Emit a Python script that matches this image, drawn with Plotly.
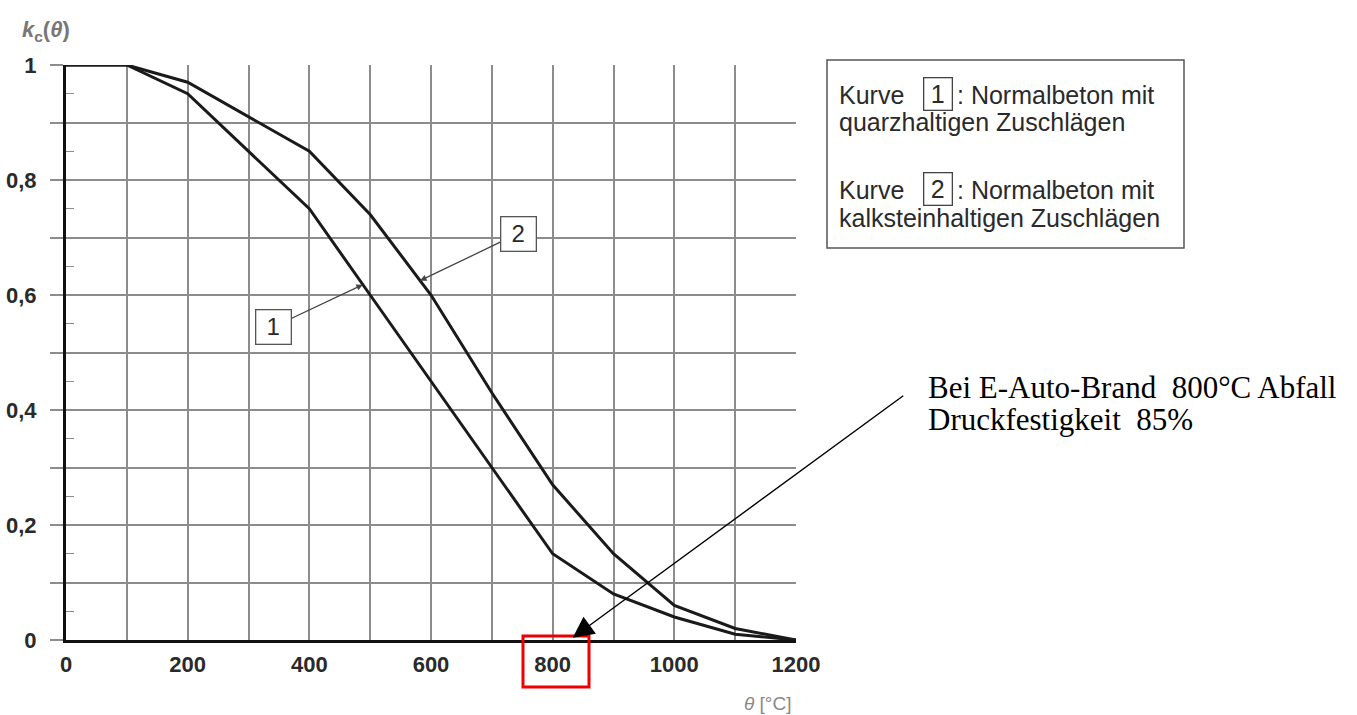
import plotly.graph_objects as go

# ---- data ----
theta = [0, 100, 200, 300, 400, 500, 600, 700, 800, 900, 1000, 1100, 1200]
kc_quarz = [1.0, 1.0, 0.95, 0.85, 0.75, 0.60, 0.45, 0.30, 0.15, 0.08, 0.04, 0.01, 0.0]
kc_kalk = [1.0, 1.0, 0.97, 0.91, 0.85, 0.74, 0.60, 0.43, 0.27, 0.15, 0.06, 0.02, 0.0]

x_tickvals = [0, 100, 200, 300, 400, 500, 600, 700, 800, 900, 1000, 1100, 1200]
x_ticktext = ["0", "", "200", "", "400", "", "600", "", "800", "", "1000", "", "1200"]
y_tickvals = [0, 0.1, 0.2, 0.3, 0.4, 0.5, 0.6, 0.7, 0.8, 0.9, 1.0]
y_ticktext = ["0", "", "0,2", "", "0,4", "", "0,6", "", "0,8", "", "1"]

W, H = 1357, 715
L, R, T, B = 66, 796, 65, 640


def px(xp):
    return (xp - L) / (R - L)


def py(yp):
    return (B - yp) / (B - T)


fig = go.Figure()
fig.add_trace(go.Scatter(x=theta, y=kc_quarz, mode="lines",
                         line=dict(color="#1a1a1a", width=3), showlegend=False))
fig.add_trace(go.Scatter(x=theta, y=kc_kalk, mode="lines",
                         line=dict(color="#1a1a1a", width=3), showlegend=False))

tickfont = dict(family="Liberation Sans, Arial", size=22, color="#2a2a2a", weight="bold")

fig.update_layout(
    width=W, height=H,
    margin=dict(l=L, r=W - R, t=T, b=H - B, pad=0, autoexpand=False),
    plot_bgcolor="white", paper_bgcolor="white",
    xaxis=dict(range=[0, 1200], tickmode="array", tickvals=x_tickvals, ticktext=x_ticktext,
               showgrid=True, gridcolor="#8c8c8c", gridwidth=1.5,
               showline=True, linecolor="#111111", linewidth=3, automargin=False,
               zeroline=False, ticks="", tickfont=tickfont, ticklabelstandoff=3),
    yaxis=dict(range=[0, 1], tickmode="array", tickvals=y_tickvals, ticktext=y_ticktext,
               showgrid=True, gridcolor="#8c8c8c", gridwidth=1.5,
               showline=True, linecolor="#111111", linewidth=3, automargin=False,
               zeroline=False, ticks="outside", ticklen=13, tickcolor="#8c8c8c", tickwidth=1.5,
               tickfont=tickfont, ticklabelstandoff=9,
               minor=dict(ticks="inside", ticklen=8, tickcolor="#8c8c8c", tickwidth=1.2,
                          tick0=0.05, dtick=0.1, showgrid=False)),
)

shapes = []
# legend box
shapes.append(dict(type="rect", xref="paper", yref="paper",
                   x0=px(827), x1=px(1184), y0=py(248), y1=py(60),
                   line=dict(color="#555555", width=1.5), fillcolor="white", layer="above"))
# red highlight box around 800
shapes.append(dict(type="rect", xref="paper", yref="paper",
                   x0=px(523), x1=px(589), y0=py(687), y1=py(636),
                   line=dict(color="#ee0000", width=3), layer="above"))
fig.update_layout(shapes=shapes)

ann = []
lf = dict(family="Liberation Sans, Arial", size=25, color="#2a2a2a")
# legend text
ann.append(dict(xref="paper", yref="paper", x=px(837), y=py(95), xanchor="left", yanchor="middle",
                text="Kurve", showarrow=False, font=lf))
ann.append(dict(xref="paper", yref="paper", x=px(938), y=py(94), xanchor="center", yanchor="middle",
                text="1", showarrow=False, font=lf, bordercolor="#444444", borderwidth=1.3,
                borderpad=1, width=25, height=29))
ann.append(dict(xref="paper", yref="paper", x=px(955), y=py(95), xanchor="left", yanchor="middle",
                text=": Normalbeton mit", showarrow=False, font=lf))
ann.append(dict(xref="paper", yref="paper", x=px(837), y=py(122), xanchor="left", yanchor="middle",
                text="quarzhaltigen Zuschlägen", showarrow=False, font=lf))
ann.append(dict(xref="paper", yref="paper", x=px(837), y=py(190), xanchor="left", yanchor="middle",
                text="Kurve", showarrow=False, font=lf))
ann.append(dict(xref="paper", yref="paper", x=px(938), y=py(189), xanchor="center", yanchor="middle",
                text="2", showarrow=False, font=lf, bordercolor="#444444", borderwidth=1.3,
                borderpad=1, width=25, height=29))
ann.append(dict(xref="paper", yref="paper", x=px(955), y=py(190), xanchor="left", yanchor="middle",
                text=": Normalbeton mit", showarrow=False, font=lf))
ann.append(dict(xref="paper", yref="paper", x=px(837), y=py(218), xanchor="left", yanchor="middle",
                text="kalksteinhaltigen Zuschlägen", showarrow=False, font=lf))

# curve labels with arrows
lf2 = dict(family="Liberation Sans, Arial", size=24, color="#2a2a2a")
ann.append(dict(x=488, y=0.618, xref="x", yref="y", text="1", showarrow=True,
                ax=-89, ay=42, arrowhead=2, arrowsize=1, arrowwidth=1.3, arrowcolor="#444444",
                font=lf2, bgcolor="white", bordercolor="#555555", borderwidth=1.3, borderpad=3,
                width=28, height=27))
ann.append(dict(x=582, y=0.625, xref="x", yref="y", text="2", showarrow=True,
                ax=98, ay=-47, arrowhead=2, arrowsize=1, arrowwidth=1.3, arrowcolor="#444444",
                font=lf2, bgcolor="white", bordercolor="#555555", borderwidth=1.3, borderpad=3,
                width=28, height=27))

# main annotation arrow
ann.append(dict(x=833, y=0.004, xref="x", yref="y", text="", showarrow=True,
                ax=332, ay=-243, arrowhead=2, arrowsize=3, arrowwidth=1.4, arrowcolor="black",
                standoff=0))
sf = dict(family="Liberation Serif, Times New Roman", size=31, color="black")
ann.append(dict(xref="paper", yref="paper", x=px(926), y=py(387), xanchor="left", yanchor="middle",
                align="left", showarrow=False,
                text="Bei E-Auto-Brand\u00a0\u00a0800°C Abfall", font=sf))
ann.append(dict(xref="paper", yref="paper", x=px(926), y=py(419), xanchor="left", yanchor="middle",
                align="left", showarrow=False,
                text="Druckfestigkeit\u00a0\u00a085%", font=sf))

# axis titles
ann.append(dict(xref="paper", yref="paper", x=px(20), y=py(31), xanchor="left", yanchor="middle",
                showarrow=False, text="<b><i>k</i><sub>c</sub>(<i>θ</i>)</b>",
                font=dict(family="Liberation Sans, Arial", size=22, color="#777777")))
ann.append(dict(xref="paper", yref="paper", x=px(793), y=py(703), xanchor="right", yanchor="middle",
                showarrow=False, text="<i>θ</i> [°C]",
                font=dict(family="Liberation Sans, Arial", size=19, color="#888888")))

fig.update_layout(annotations=ann)
fig.write_html("out.html", config={"displayModeBar": False},
               post_script="document.body.style.margin='0';document.body.style.overflow='hidden';")
